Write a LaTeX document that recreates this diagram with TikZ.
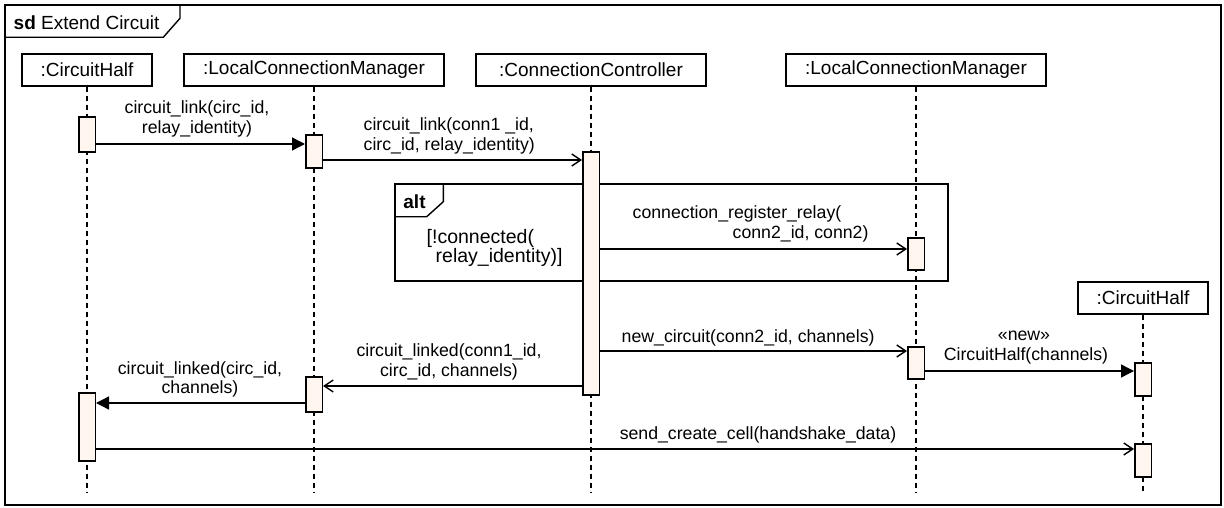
\documentclass[tikz,border=0pt]{standalone}
\usepackage{fontspec}
\setmainfont{Liberation Sans}
\usetikzlibrary{arrows.meta}
\definecolor{actfill}{HTML}{FFF7EF}
\begin{document}
\begin{tikzpicture}[x=1pt,y=-1pt,
  line width=1.4pt,
  obj/.style={draw, line width=1.4pt, minimum height=32pt, inner sep=0pt,
    font=\fontsize{19}{22}\selectfont},
  act/.style={draw, fill=actfill, line width=1.5pt, minimum width=16.5pt, inner sep=0pt},
  life/.style={dash pattern=on 5pt off 4pt, line width=1.3pt},
  lbl/.style={inner sep=0pt, font=\fontsize{17.7}{20}\selectfont},
  guard/.style={inner sep=0pt, font=\fontsize{19.5}{22}\selectfont},
  head/.style={inner sep=0pt, font=\fontsize{19}{22}\selectfont},
  sync/.style={-{Triangle[length=13pt,width=13pt]}},
  async/.style={-{Straight Barb[length=9pt,width=12pt,line width=1.4pt]}},
]
\useasboundingbox (0,0) rectangle (1224,508);

% diagram frame and its name tab
\draw (5,5) rectangle (1221,505);
\draw (5,37.3) -- (163.3,37.3) -- (180,18.3) -- (180,5);
\node[head, anchor=base west] (title) at (13,29.5) {\textbf{sd} Extend Circuit};

% lifeline heads
\node[obj, minimum width=130pt] (ch1)  at (87,70)   {:CircuitHalf};
\node[obj, minimum width=260pt] (lcm1) at (314,70)  {:LocalConnectionManager};
\node[obj, minimum width=230pt] (cc)   at (591,70)  {:ConnectionController};
\node[obj, minimum width=260pt] (lcm2) at (916,70)  {:LocalConnectionManager};
\node[obj, minimum width=130pt] (ch2)  at (1143,298) {:CircuitHalf};

% lifelines
\foreach \n in {ch1,lcm1,cc,lcm2,ch2}
  \draw[life] (\n.south) -- (\n.south |- 0,492);

% alt combined fragment
\draw (395,184) rectangle (948,281);
\draw (395,216.7) -- (426.7,216.7) -- (443.3,201.7) -- (443.3,184);
\node[head, anchor=base west] (altlbl) at (402.7,208) {\textbf{alt}};
\node[guard, anchor=base west] (g1) at (426,243) {[!connected(};
\node[guard, anchor=base west] (g2) at (435,262) {relay\_identity)]};

% activations
\node[act, minimum height=35pt]  (ch1a)  at (87,134.5)   {};
\node[act, minimum height=33pt]  (lcm1a) at (314,151.5)  {};
\node[act, minimum height=243pt] (cca)   at (591,273.5)  {};
\node[act, minimum height=32pt]  (lcm2a) at (916,254)    {};
\node[act, minimum height=32pt]  (lcm2b) at (916,363)    {};
\node[act, minimum height=33pt]  (ch2a)  at (1143,379.5) {};
\node[act, minimum height=35pt]  (lcm1b) at (314,394.5)  {};
\node[act, minimum height=68pt]  (ch1b)  at (87,427)     {};
\node[act, minimum height=33pt]  (ch2b)  at (1143,460.5) {};

% messages
\draw[sync]  (ch1a.east |- 0,144)  -- (lcm1a.west |- 0,144);
\node[lbl, anchor=base] (m1a) at (197,113.5) {circuit\_link(circ\_id,};
\node[lbl, anchor=base] (m1b) at (197,133.5) {relay\_identity)};

\draw[async] (lcm1a.east |- 0,160) -- (cca.west |- 0,160);
\node[lbl, anchor=base west] (m2a) at (363,130.5) {circuit\_link(conn1 \_id,};
\node[lbl, anchor=base west] (m2b) at (363,150.5) {circ\_id, relay\_identity)};

\draw[async] (cca.east |- 0,249)   -- (lcm2a.west |- 0,249);
\node[lbl, anchor=base west] (m3a) at (632,218.5) {connection\_register\_relay(};
\node[lbl, anchor=base west] (m3b) at (732,238.5) {conn2\_id, conn2)};

\draw[async] (cca.east |- 0,351)   -- (lcm2b.west |- 0,351);
\node[lbl, anchor=base west] (m4) at (621,342.5) {new\_circuit(conn2\_id, channels)};

\draw[sync]  (lcm2b.east |- 0,371) -- (ch2a.west |- 0,371);
\node[lbl, anchor=base] (m5a) at (1024,340.5) {«new»};
\node[lbl, anchor=base] (m5b) at (1026,360.5) {CircuitHalf(channels)};

\draw[async] (cca.west |- 0,386)   -- (lcm1b.east |- 0,386);
\node[lbl, anchor=base] (m6a) at (449,356) {circuit\_linked(conn1\_id,};
\node[lbl, anchor=base] (m6b) at (449,376) {circ\_id, channels)};

\draw[sync]  (lcm1b.west |- 0,403) -- (ch1b.east |- 0,403);
\node[lbl, anchor=base] (m7a) at (200,374)   {circuit\_linked(circ\_id,};
\node[lbl, anchor=base] (m7b) at (200,393.5) {channels)};

\draw[async] (ch1b.east |- 0,449)  -- (ch2b.west |- 0,449);
\node[lbl, anchor=base] (m8) at (758,439) {send\_create\_cell(handshake\_data)};
\end{tikzpicture}
\end{document}
